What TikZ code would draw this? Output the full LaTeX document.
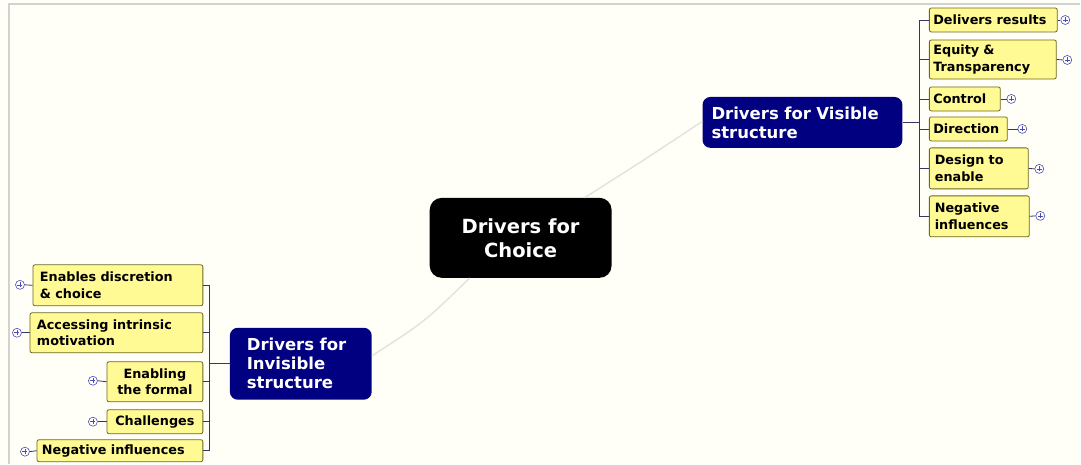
\documentclass[tikz,border=0pt]{standalone}
\usepackage{fontspec}
\setmainfont{DejaVu Sans}
\begin{document}
\begin{tikzpicture}[x=1pt,y=-1pt,
  leaf/.style={draw=olive!70!black, fill=yellow!42, rounded corners=2pt, line width=0.8pt,
    font=\bfseries\fontsize{12.8}{16.5}\selectfont, inner sep=0pt, align=left, anchor=center},
  hub/.style={fill=blue!50!black, rounded corners=8pt, text=white,
    font=\bfseries\fontsize{16.5}{19}\selectfont, align=left, inner sep=0pt},
  root/.style={fill=black, rounded corners=12pt, text=white,
    font=\bfseries\fontsize{19.5}{24}\selectfont, align=center, inner sep=0pt},
  plus/.style={circle, draw=gray!60!blue, fill=white, line width=0.6pt, minimum size=9pt, inner sep=0pt,
    path picture={\draw[gray!60!blue, line width=0.6pt] (path picture bounding box.center) +(-2.5,0) -- +(2.5,0) +(0,-2.5) -- +(0,2.5);}},
  tie/.style={draw=gray!70!blue!60!black, line width=0.8pt},
  main/.style={draw=gray!22, line width=1.5pt}
]
\fill[yellow!3] (0,0) rectangle (1081,464);
\draw[gray!35, line width=1.5pt] (9,464) -- (9,4) -- (1081,4);
\useasboundingbox (0,0) rectangle (1081,464);

% central
\node[root, minimum width=182pt, minimum height=80pt] (c) at (521,238) {Drivers for\\Choice};
\node[hub, minimum width=200pt, minimum height=51pt, text width=182pt] (v) at (803,122.5) {Drivers for Visible\\structure};
\node[hub, minimum width=142pt, minimum height=72pt, text width=108pt] (i) at (301,364) {Drivers for\\Invisible\\structure};

\draw[main] ([xshift=64pt]c.north) .. controls (640,163) .. ([yshift=1pt]v.west);
\draw[main] ([xshift=-51pt]c.south) .. controls (425,322) .. ([yshift=8pt]i.east);

% right leaves
\node[leaf, minimum width=128pt, minimum height=24pt, text width=120pt] (r1) at (994,20) {Delivers results};
\node[leaf, minimum width=127pt, minimum height=39pt, text width=119pt] (r2) at (993.5,59.5) {Equity \&\\Transparency};
\node[leaf, minimum width=71pt, minimum height=24pt, text width=63pt] (r3) at (965.5,99) {Control};
\node[leaf, minimum width=78pt, minimum height=24pt, text width=70pt] (r4) at (969,129) {Direction};
\node[leaf, minimum width=99pt, minimum height=41pt, text width=88pt] (r5) at (979.5,168.5) {Design to\\enable};
\node[leaf, minimum width=100pt, minimum height=41pt, text width=89pt] (r6) at (980,216.5) {Negative\\influences};

\coordinate (rt) at (920,20);
\coordinate (rb) at (920,216.5);
\draw[tie] (rt) -- (rb);
\draw[tie] (v.east) -- (920,122.5);
\foreach \n in {r1,r2,r3,r4,r5,r6} \draw[tie] (\n.west) -- (\n.west -| rt);

\node[plus] (p1) at (1066,20) {};
\node[plus] (p2) at (1068,60) {};
\node[plus] (p3) at (1012,99) {};
\node[plus] (p4) at (1023,129) {};
\node[plus] (p5) at (1040,169) {};
\node[plus] (p6) at (1041,216) {};
\draw[tie] (r1.east) -- (p1.west); \draw[tie] (r2.east) -- (p2.west);
\draw[tie] (r3.east) -- (p3.west); \draw[tie] (r4.east) -- (p4.west);
\draw[tie] (r5.east) -- (p5.west); \draw[tie] (r6.east) -- (p6.west);

% left leaves
\node[leaf, minimum width=170pt, minimum height=41pt, text width=156pt] (l1) at (118,285.5) {Enables discretion\\\& choice};
\node[leaf, minimum width=173pt, minimum height=40pt, text width=159pt] (l2) at (116.5,333) {Accessing intrinsic\\motivation};
\node[leaf, minimum width=96pt, minimum height=40pt, text width=86pt, align=center] (l3) at (155,382) {Enabling\\the formal};
\node[leaf, minimum width=96pt, minimum height=24pt, text width=86pt, align=center] (l4) at (155,422) {Challenges};
\node[leaf, minimum width=166pt, minimum height=22pt, text width=156pt] (l5) at (120,451) {Negative influences};

\coordinate (lt) at (210,285.5);
\coordinate (lb) at (210,451);
\draw[tie] (lt) -- (lb);
\draw[tie] (i.west) -- (210,364);
\foreach \n in {l1,l2,l3,l4,l5} \draw[tie] (\n.east) -- (\n.east -| lt);

\node[plus] (q1) at (20,285) {};
\node[plus] (q2) at (17,333) {};
\node[plus] (q3) at (93,381) {};
\node[plus] (q4) at (93,422) {};
\node[plus] (q5) at (25,452) {};
\draw[tie] (l1.west) -- (q1.east); \draw[tie] (l2.west) -- (q2.east);
\draw[tie] (l3.west) -- (q3.east); \draw[tie] (l4.west) -- (q4.east);
\draw[tie] (l5.west) -- (q5.east);
\end{tikzpicture}
\end{document}
